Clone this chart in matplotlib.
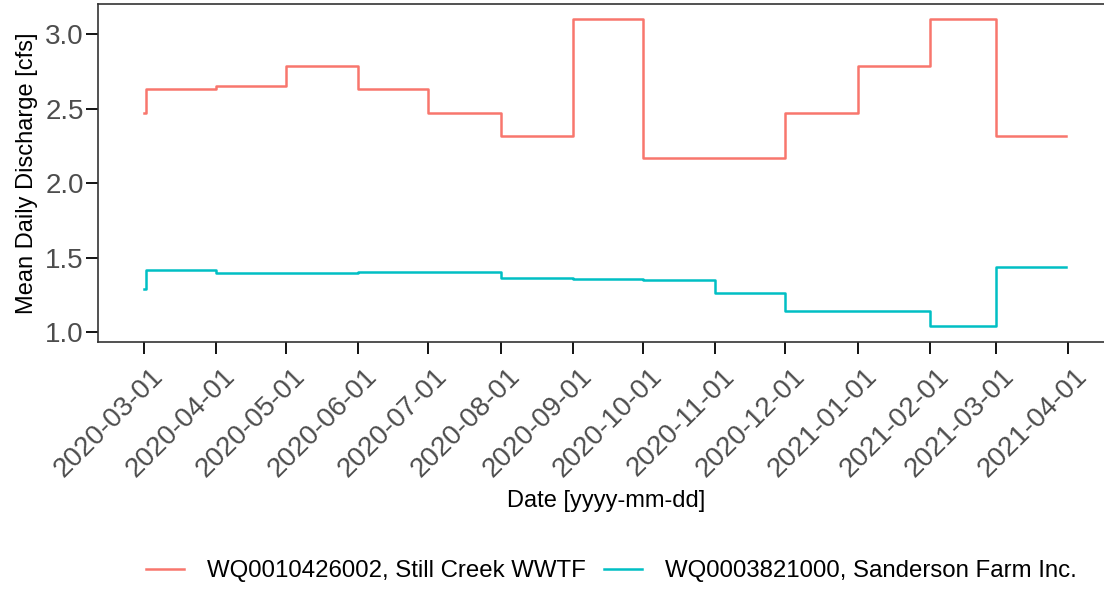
import numpy as np
import pandas as pd
import matplotlib
matplotlib.use("Agg")
import matplotlib.pyplot as plt
import matplotlib.dates as mdates
from matplotlib.transforms import ScaledTranslation

plt.rcParams["font.family"] = ["Liberation Sans", "DejaVu Sans"]

# step series: value holds from its date until the next date
dates = ["2020-03-01", "2020-03-02", "2020-04-01", "2020-05-01", "2020-06-01",
         "2020-07-01", "2020-08-01", "2020-09-01", "2020-10-01", "2020-11-01",
         "2020-12-01", "2021-01-01", "2021-02-01", "2021-03-01", "2021-03-31"]
still_creek = [2.47, 2.63, 2.65, 2.79, 2.63, 2.47, 2.32, 3.10, 2.17, 2.17,
               2.47, 2.79, 3.10, 2.32, 2.32]
sanderson = [1.29, 1.415, 1.395, 1.40, 1.403, 1.403, 1.365, 1.36, 1.35, 1.265,
             1.14, 1.145, 1.04, 1.44, 1.44]
labels = ["WQ0010426002, Still Creek WWTF", "WQ0003821000, Sanderson Farm Inc."]
colors = ["#F8766D", "#00BFC4"]
tick_dates = pd.date_range("2020-03-01", "2021-04-01", freq="MS")

x = pd.to_datetime(dates)

fig = plt.figure(figsize=(11.04, 6.02), dpi=100)
ax = fig.add_axes([0.0885, 0.4324, 0.9205, 0.5610])

for vals, c, lab in zip([still_creek, sanderson], colors, labels):
    ax.step(x, vals, where="post", color=c, lw=1.8, label=lab)

# ggplot-style 5% expansion
span = x.max() - x.min()
ax.set_xlim(x.min() - span * 0.05, tick_dates[-1] + span * 0.05)
allv = np.array(still_creek + sanderson)
yr = allv.max() - allv.min()
ax.set_ylim(allv.min() - yr * 0.05, allv.max() + yr * 0.05)

ax.set_xticks(tick_dates)
ax.set_xticklabels([])
ax.set_yticks([1.0, 1.5, 2.0, 2.5, 3.0])
ax.yaxis.set_major_formatter(matplotlib.ticker.FormatStrFormatter("%.1f"))
ax.tick_params(axis="both", labelsize=20, labelcolor="#4D4D4D", length=8.5,
               width=1.3, color="black")
ax.tick_params(axis="y", pad=1.5)

# rotated date labels, drawn by hand so they can sit a bit right of the tick
shift = ScaledTranslation(0.06, -0.22, fig.dpi_scale_trans)
for d in tick_dates:
    ax.text(mdates.date2num(d), 0, d.strftime("%Y-%m-%d"),
            transform=ax.get_xaxis_transform() + shift,
            rotation=45, ha="right", va="top", rotation_mode="anchor",
            fontsize=20, color="#4D4D4D")

for s in ax.spines.values():
    s.set_color("#333333")
    s.set_linewidth(1.2)

ax.set_xlabel("Date [yyyy-mm-dd]", fontsize=17)
ax.xaxis.set_label_coords(0.5, -0.439)
ax.set_ylabel("Mean Daily Discharge [cfs]", fontsize=17, labelpad=5)

fig.legend(loc="center", bbox_to_anchor=(0.554, 0.0515), ncol=2, frameon=False,
           fontsize=17.3, handlelength=1.57, columnspacing=0.76, handletextpad=0.97)

fig.savefig("out.png", dpi=100)
